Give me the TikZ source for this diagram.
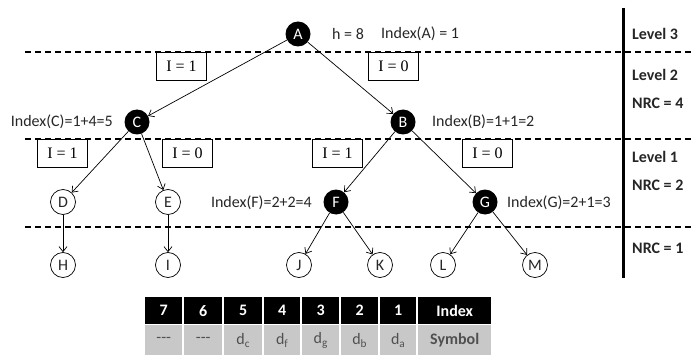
\documentclass[tikz,border=0pt]{standalone}
\usepackage{fontspec}
\setmainfont{Carlito}
\newfontfamily\serifbox{Liberation Serif}
\usetikzlibrary{arrows.meta}
\definecolor{txt}{HTML}{262626}
\definecolor{cellgray}{HTML}{C8C8C8}
\definecolor{symtxt}{HTML}{505050}
\begin{document}
\begin{tikzpicture}[x=1pt,y=-1pt,
  font=\fontsize{16}{18}\selectfont,
  blk/.style={circle,fill=black,text=white,minimum size=25pt,inner sep=0pt},
  opn/.style={circle,draw=black,line width=0.7pt,text=txt,minimum size=25pt,inner sep=0pt},
  conn/.style={line width=0.7pt,-{Straight Barb[length=5pt,width=8pt]}},
  dline/.style={line width=1.2pt,dash pattern=on 6pt off 4pt},
  ibox/.style={draw,line width=0.9pt,minimum width=50pt,minimum height=28pt,inner sep=0pt,font=\serifbox\fontsize{16}{18}\selectfont,anchor=north west},
  lab/.style={text=txt,inner sep=0pt},
  lvl/.style={text=txt,font=\bfseries\fontsize{16}{18}\selectfont,anchor=west,inner sep=0pt},
  hcell/.style={fill=black,text=white,font=\bfseries\fontsize{16}{18}\selectfont,minimum height=27pt,inner sep=0pt,anchor=north west},
  scell/.style={fill=cellgray,text=symtxt,minimum height=30pt,inner sep=0pt,anchor=north west}
]
\useasboundingbox (0,0) rectangle (692,358);
% dashed lines
\coordinate (d1l) at (25,52); \coordinate (d1r) at (692,52);
\coordinate (d2l) at (25,139); \coordinate (d2r) at (692,139);
\coordinate (d3l) at (25,227); \coordinate (d3r) at (692,227);
\draw[dline] (d1l) -- (d1r);
\draw[dline] (d2l) -- (d2r);
\draw[dline] (d3l) -- (d3r);
% vertical bar
\coordinate (vt) at (623,8); \coordinate (vb) at (623,278);
\draw[line width=3pt] (vt) -- (vb);
% level labels
\node[lvl] (l3) at (632,34) {Level 3};
\node[lvl] (l2) at (632,75) {Level 2};
\node[lvl] (n4) at (632,103) {NRC = 4};
\node[lvl] (l1) at (632,157) {Level 1};
\node[lvl] (n2) at (632,185) {NRC = 2};
\node[lvl] (n1) at (632,248) {NRC = 1};
% I boxes
\node[ibox,fill=white] (b1) at (156,52) {I = 1};
\node[ibox,fill=white] (b2) at (368,52) {I = 0};
\node[ibox,fill=white] (b3) at (37,139) {I = 1};
\node[ibox,fill=white] (b4) at (162,139) {I = 0};
\node[ibox,fill=white] (b5) at (312,139) {I = 1};
\node[ibox,fill=white] (b6) at (462,139) {I = 0};
% nodes
\node[blk] (A) at (298,34) {A};
\node[blk] (C) at (137,122) {C};
\node[blk] (B) at (403,122) {B};
\node[opn] (D) at (63,202) {D};
\node[opn] (E) at (168,202) {E};
\node[blk] (F) at (336,202) {F};
\node[blk] (G) at (485,202) {G};
\node[opn] (H) at (63,265) {H};
\node[opn] (I) at (168,265) {I};
\node[opn] (J) at (299,265) {J};
\node[opn] (K) at (380,265) {K};
\node[opn] (L) at (443,265) {L};
\node[opn] (M) at (535,265) {M};
% connectors
\draw[conn] (A) -- (C);
\draw[conn] (A) -- (B);
\draw[conn] (C) -- (D);
\draw[conn] (C) -- (E);
\draw[conn] (B) -- (F);
\draw[conn] (B) -- (G);
\draw[conn] (D) -- (H);
\draw[conn] (E) -- (I);
\draw[conn] (F) -- (J);
\draw[conn] (F) -- (K);
\draw[conn] (G) -- (L);
\draw[conn] (G) -- (M);
% labels
\node[lab,anchor=west] (hA) at (332,34) {h = 8};
\node[lab,anchor=west] (iA) at (381,34) {Index(A) = 1};
\node[lab,anchor=east] (iC) at (113,122) {Index(C)=1+4=5};
\node[lab,anchor=west] (iB) at (432,122) {Index(B)=1+1=2};
\node[lab,anchor=east] (iF) at (312,203) {Index(F)=2+2=4};
\node[lab,anchor=west] (iG) at (507,203) {Index(G)=2+1=3};
% table
\node[hcell,minimum width=37pt] (h7) at (145,297) {7};
\node[hcell,minimum width=38pt] (h6) at (184,297) {6};
\node[hcell,minimum width=38pt] (h5) at (224,297) {5};
\node[hcell,minimum width=36pt] (h4) at (264,297) {4};
\node[hcell,minimum width=37pt] (h3) at (302,297) {3};
\node[hcell,minimum width=37pt] (h2) at (341,297) {2};
\node[hcell,minimum width=36pt] (h1) at (380,297) {1};
\node[hcell,minimum width=73pt] (hI) at (418,297) {Index};
\node[scell,minimum width=37pt] (s7) at (145,325) {-{}-{}-};
\node[scell,minimum width=38pt] (s6) at (184,325) {-{}-{}-};
\node[scell,minimum width=38pt] (s5) at (224,325) {d\textsubscript{c}};
\node[scell,minimum width=36pt] (s4) at (264,325) {d\textsubscript{f}};
\node[scell,minimum width=37pt] (s3) at (302,325) {d\textsubscript{g}};
\node[scell,minimum width=37pt] (s2) at (341,325) {d\textsubscript{b}};
\node[scell,minimum width=36pt] (s1) at (380,325) {d\textsubscript{a}};
\node[scell,minimum width=73pt,font=\bfseries\fontsize{16}{18}\selectfont] (sI) at (418,325) {Symbol};
\end{tikzpicture}
\end{document}
